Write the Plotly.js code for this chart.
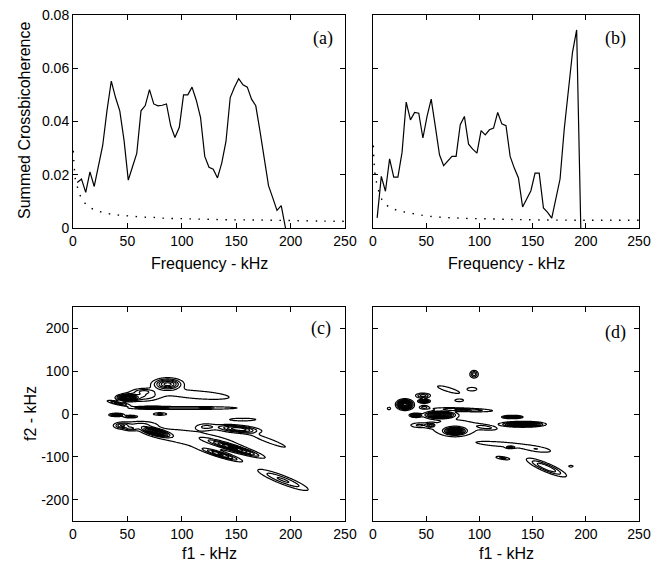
<!DOCTYPE html>
<html><head><meta charset="utf-8">
<script src="https://cdn.plot.ly/plotly-3.0.1.min.js"></script>
<style>html,body{margin:0;padding:0;background:#fff}#chart{width:665px;height:562px}</style>
</head><body><div id="chart"></div>
<script>
// ---------- Panels (a) and (b): summed crossbicoherence vs frequency ----------
const freqKHz = [3.9, 7.8, 11.7, 15.6, 19.5, 23.4, 27.3, 31.2, 35.2, 39.1, 43.0, 46.9, 50.8, 54.7, 58.6, 62.5, 66.4, 70.3, 74.2, 78.1,
  82.0, 85.9, 89.8, 93.7, 97.7, 101.6, 105.5, 109.4, 113.3, 117.2, 121.1, 125.0, 128.9, 132.8, 136.7, 140.6, 144.5, 148.4, 152.3, 156.2,
  160.2, 164.1, 168.0, 171.9, 175.8, 179.7, 183.6, 187.5, 191.4, 195.3];
const summedA = [0.0171, 0.0184, 0.0134, 0.0211, 0.0156, 0.0230, 0.0310, 0.0440, 0.0552, 0.0490, 0.0440, 0.0330, 0.0180, 0.0230, 0.0280, 0.0440, 0.0460, 0.0520, 0.0466, 0.0459,
  0.0461, 0.0466, 0.0384, 0.0340, 0.0378, 0.0500, 0.0500, 0.0529, 0.0480, 0.0416, 0.0269, 0.0228, 0.0221, 0.0188, 0.0244, 0.0325, 0.0490, 0.0529, 0.0561, 0.0538,
  0.0529, 0.0484, 0.0459, 0.0363, 0.0269, 0.0159, 0.0113, 0.0066, 0.0084, 0.0];
const summedB = [0.0038, 0.0194, 0.0138, 0.0260, 0.0191, 0.0191, 0.0284, 0.0473, 0.0406, 0.0434, 0.0431, 0.0338, 0.0419, 0.0484, 0.0381, 0.0275, 0.0234, 0.0253, 0.0269, 0.0269,
  0.0388, 0.0419, 0.0315, 0.0296, 0.0281, 0.0366, 0.0350, 0.0369, 0.0375, 0.0434, 0.0391, 0.0384, 0.0269, 0.0225, 0.0188, 0.0079, 0.0109, 0.0140, 0.0206, 0.0206,
  0.0075, 0.0059, 0.0037, 0.0110, 0.0184, 0.0370, 0.0512, 0.0660, 0.0744, 0.0];
const threshFreqA = [0.3, 0.8, 1.5, 2.3, 4.0, 6.4, 11, 18.7, 28, 37, 46, 55, 64, 73, 82, 101, 120, 141, 170, 200, 230, 250];
const thresholdA  = [0.029, 0.025, 0.021, 0.018, 0.0155, 0.0124, 0.0093, 0.0070, 0.0058, 0.0051, 0.0047, 0.0044, 0.0041, 0.0040, 0.0037, 0.0035, 0.0033, 0.0031, 0.0030, 0.0028, 0.0026, 0.0025];
const threshFreqB = [0.3, 0.8, 1.5, 2.3, 4.0, 6.5, 10, 17.2, 26.6, 37.6, 53, 81, 113, 144, 200, 250];
const thresholdB  = [0.031, 0.026, 0.022, 0.019, 0.0160, 0.0125, 0.0096, 0.0075, 0.0063, 0.0054, 0.0044, 0.0037, 0.0034, 0.0031, 0.0029, 0.0029];

const freqTicks = [0, 50, 100, 150, 200, 250];
const cohTicks = [0, 0.02, 0.04, 0.06, 0.08];
const cohTickText = ['0', '0.02', '0.04', '0.06', '0.08'];
const f2Ticks = [-200, -100, 0, 100, 200];
const f2TickText = ['-200', '-100', '0', '100', '200'];

// ---------- Panels (c) and (d): bicoherence contour features ----------
// each feature: centre (f1, f2) in kHz, outer half-length / half-width in kHz, orientation (deg), peak level
const cCentreF1 = [87, 114, 50, 64, 65, 42, 72, 102, 40, 53, 80, 45, 53, 76, 112, 156, 152, 180, 122, 148, 136, 193, 62];
const cCentreF2 = [70, 45, 38, 42, 53, 25, 15, 14, -2, -6, 0, -27, -34, -42, -58, -13, -35, -62, -30, -80, -95, -154, -25];
const cHalfLen  = [15, 30, 11, 15, 6, 12, 14, 48, 7, 6, 6, 7, 5, 18, 42, 12, 22, 18, 7, 34, 24, 33, 10];
const cHalfWid  = [15, 9, 9, 12, 4, 3.5, 3, 3.5, 4, 3, 3, 7, 4, 8, 15, 3, 9, 3, 6, 6.5, 5.5, 7.5, 6];
const cAngle    = [0, -12, 0, 0, 0, -30, 0, 0, 0, 0, 0, 0, 0, -40, -25, 0, -15, -45, 0, -39, -40, -47, 0];
const cPeak     = [1.6, 0.4, 3.0, 0.7, 0.45, 0.9, 1.5, 0.7, 1.4, 0.9, 0.6, 0.9, 0.6, 2.6, 0.4, 0.5, 1.4, 0.35, 0.5, 1.6, 1.2, 0.8, 0.45];

const dCentreF1 = [95, 93, 71, 47, 81, 30, 15, 48, 85, 40, 63, 43, 54, 77, 77, 106, 131, 141, 122, 155, 129, 122, 163, 186, 48];
const dCentreF2 = [93, 58, 57, 43, 32, 22, 13, 30, 10, -3, -2, -26, -26, -32, -40, -31, -7, -24, -71, -83, -78, -103, -125, -122, 16];
const dHalfLen  = [4, 4.5, 13, 7, 4, 9, 1.5, 6, 27, 6, 16, 6, 4, 21, 11, 9, 10, 22, 22, 12, 4, 7, 28, 2, 4];
const dHalfWid  = [9, 4, 4, 6, 3, 14, 3, 5, 4, 5, 10, 4, 5, 18, 10, 4, 4, 7, 5, 5, 2.5, 3, 7.5, 2, 4];
const dAngle    = [0, 0, -40, 0, 0, 0, 0, 0, -5, 0, 0, 0, 0, 0, 0, -20, 0, 0, -10, -20, 0, -25, -50, 0, 0];
const dPeak     = [0.9, 0.4, 0.4, 0.9, 0.5, 3.2, 0.35, 1.8, 0.8, 1.8, 3.0, 0.45, 0.9, 0.4, 3.0, 0.5, 2.6, 2.8, 0.45, 0.45, 0.8, 0.6, 1.0, 0.35, 0.6];

const LOWEST_LEVEL = 0.25;
function buildField(cx, cy, hl, hw, ang, pk) {
  const xs = [], ys = [];
  for (let f = 0; f <= 250; f += 1) xs.push(f);
  for (let f = -240; f <= 160; f += 1) ys.push(f);
  const blobs = cx.map((_, i) => {
    const k = Math.sqrt(2 * Math.log(pk[i] / LOWEST_LEVEL));
    const t = ang[i] * Math.PI / 180;
    return {x: cx[i], y: cy[i], su: hl[i] / k, sv: hw[i] / k, c: Math.cos(t), s: Math.sin(t), a: pk[i],
            r: 4.5 * Math.max(hl[i], hw[i]) / k};
  });
  const z = ys.map(y => xs.map(x => {
    let v = 0;
    for (const b of blobs) {
      const dx = x - b.x, dy = y - b.y;
      if (Math.abs(dx) > b.r || Math.abs(dy) > b.r) continue;
      const u = dx * b.c + dy * b.s, w = -dx * b.s + dy * b.c;
      v += b.a * Math.exp(-0.5 * (u * u / (b.su * b.su) + w * w / (b.sv * b.sv)));
    }
    return v;
  }));
  return {xs, ys, z};
}
const fieldC = buildField(cCentreF1, cCentreF2, cHalfLen, cHalfWid, cAngle, cPeak);
const fieldD = buildField(dCentreF1, dCentreF2, dHalfLen, dHalfWid, dAngle, dPeak);

function contourTrace(field, xa, ya) {
  return {type: 'contour', x: field.xs, y: field.ys, z: field.z, xaxis: xa, yaxis: ya,
    autocontour: false, contours: {start: LOWEST_LEVEL, end: 6, size: 0.25, coloring: 'lines', showlabels: false},
    colorscale: [[0, '#000'], [1, '#000']], showscale: false, line: {width: 1.2, smoothing: 1}, hoverinfo: 'skip'};
}

const dotDash = '1.5px,7.5px';
const traces = [
  {x: freqKHz, y: summedA, type: 'scatter', mode: 'lines', line: {color: '#000', width: 1.2}, xaxis: 'x', yaxis: 'y'},
  {x: threshFreqA, y: thresholdA, type: 'scatter', mode: 'lines', line: {color: '#000', width: 1.4, dash: dotDash, shape: 'spline'}, xaxis: 'x', yaxis: 'y'},
  {x: freqKHz, y: summedB, type: 'scatter', mode: 'lines', line: {color: '#000', width: 1.2}, xaxis: 'x2', yaxis: 'y2'},
  {x: threshFreqB, y: thresholdB, type: 'scatter', mode: 'lines', line: {color: '#000', width: 1.4, dash: dotDash, shape: 'spline'}, xaxis: 'x2', yaxis: 'y2'},
  contourTrace(fieldC, 'x3', 'y3'),
  contourTrace(fieldD, 'x4', 'y4')
];

const W = 665, H = 562;
const colL = [73 / W, 345 / W], colR = [373 / W, 639 / W];
const rowT = [1 - 228 / H, 1 - 15 / H], rowB = [1 - 521 / H, 1 - 307 / H];
const tickFont = {family: 'Liberation Sans, Arial, sans-serif', size: 14, color: '#000'};
function axis(domain, range, tickvals, ticktext, showLabels, anchor) {
  return {domain, range, anchor, tickmode: 'array', tickvals, ticktext, showticklabels: showLabels,
    ticks: 'inside', ticklen: 5, tickcolor: '#000', tickwidth: 1, showline: true, linecolor: '#000', linewidth: 1,
    mirror: 'allticks', showgrid: false, zeroline: false, tickfont: tickFont, fixedrange: true};
}
const freqText = freqTicks.map(String);

const titleFont = {family: 'Liberation Sans, Arial, sans-serif', size: 16, color: '#000'};
const labelFont = {family: 'Liberation Serif, Times New Roman, serif', size: 18, color: '#000'};
function panelLabel(text, xr, yr, x, y) {
  return {text, xref: xr + ' domain', yref: yr + ' domain', x, y, showarrow: false, font: labelFont, xanchor: 'center', yanchor: 'middle'};
}
function paperText(text, px, py, angle) {
  return {text, xref: 'paper', yref: 'paper', x: px / W, y: 1 - py / H, showarrow: false, font: titleFont,
    xanchor: 'center', yanchor: 'middle', textangle: angle || 0};
}

const layout = {
  width: W, height: H, margin: {l: 0, r: 0, t: 0, b: 0},
  paper_bgcolor: '#fff', plot_bgcolor: '#fff', showlegend: false,
  xaxis: axis(colL, [0, 250], freqTicks, freqText, true, 'y'),
  yaxis: axis(rowT, [0, 0.08], cohTicks, cohTickText, true, 'x'),
  xaxis2: axis(colR, [0, 250], freqTicks, freqText, true, 'y2'),
  yaxis2: axis(rowT, [0, 0.08], cohTicks, cohTickText, false, 'x2'),
  xaxis3: axis(colL, [0, 250], freqTicks, freqText, true, 'y3'),
  yaxis3: axis(rowB, [-250, 250], f2Ticks, f2TickText, true, 'x3'),
  xaxis4: axis(colR, [0, 250], freqTicks, freqText, true, 'y4'),
  yaxis4: axis(rowB, [-250, 250], f2Ticks, f2TickText, false, 'x4'),
  annotations: [
    panelLabel('(a)', 'x', 'y', 0.919, 0.89),
    panelLabel('(b)', 'x2', 'y2', 0.91, 0.89),
    panelLabel('(c)', 'x3', 'y3', 0.91, 0.90),
    panelLabel('(d)', 'x4', 'y4', 0.91, 0.88),
    paperText('Summed Crossbicoherence', 25, 120, -90),
    paperText('Frequency - kHz', 209, 263),
    paperText('Frequency - kHz', 506, 263),
    paperText('f2 - kHz', 30, 414, -90),
    paperText('f1 - kHz', 209, 553),
    paperText('f1 - kHz', 506, 553)
  ]
};
Plotly.newPlot('chart', traces, layout, {displayModeBar: false, staticPlot: true});
</script>
</body></html>
